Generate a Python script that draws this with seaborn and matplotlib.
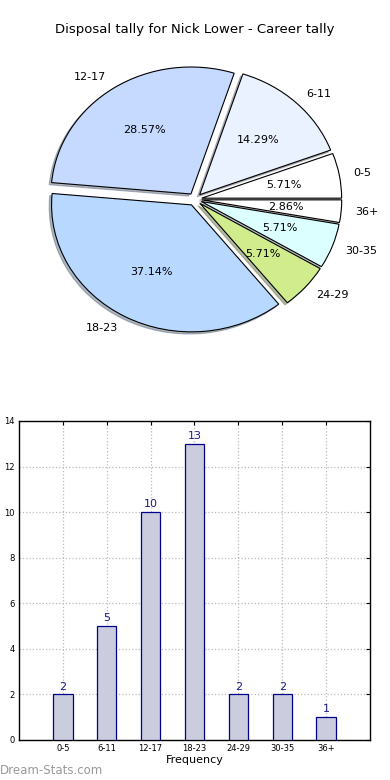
import matplotlib
matplotlib.use("Agg")
import matplotlib.pyplot as plt
import seaborn as sns
import pandas as pd

# career disposal tally, grouped by disposal count
CATEGORIES = ["0-5", "6-11", "12-17", "18-23", "24-29", "30-35", "36+"]
COUNTS = [2, 5, 10, 13, 2, 2, 1]
PIE_COLORS = ["#ffffff", "#eaf1ff", "#c6d9ff", "#b8d8ff",
              "#d0ec8c", "#dcffff", "#ffffff"]
TITLE = "Disposal tally for Nick Lower - Career tally"


def draw_pie(ax):
    ''' exploded pie with shadow, like the old dream-stats charts '''
    ax.pie(COUNTS, labels=CATEGORIES, colors=PIE_COLORS,
           explode=[0.05] * len(COUNTS),
           shadow={"ox": -0.012, "oy": -0.012, "shade": 0.5},
           startangle=0,
           autopct="%1.2f%%", pctdistance=0.6, labeldistance=1.1,
           wedgeprops={"edgecolor": "black", "linewidth": 0.8},
           textprops={"fontsize": 8, "color": "black"})
    # old matplotlib did not force a round pie
    ax.set_aspect("auto")
    ax.set_xlim(-1.25, 1.25)
    ax.set_ylim(-1.25, 1.25)


def draw_bars(ax):
    ''' frequency bars with the value written above each one '''
    df = pd.DataFrame({"range": CATEGORIES, "count": COUNTS})
    sns.barplot(data=df, x="range", y="count", order=CATEGORIES,
                color="#ccccdf", saturation=1, width=0.44,
                edgecolor="#00008b", linewidth=0.9, ax=ax, zorder=3)
    for i, v in enumerate(COUNTS):
        ax.text(i, v + 0.12, str(v), ha="center", va="bottom",
                fontsize=8, color="#1a1a8c")
    ax.set_xlim(-1, 7)
    ax.set_ylim(0, 14)
    ax.set_yticks(range(0, 15, 2))
    ax.grid(True, linestyle=":", color="#bbbbbb", linewidth=0.9, zorder=0)
    ax.set_axisbelow(True)
    ax.tick_params(direction="in", length=3, labelsize=6, top=True,
                   right=True, pad=3, colors="black")
    for s in ax.spines.values():
        s.set_linewidth(1)
        s.set_color("black")
    ax.set_xlabel("Frequency", fontsize=8, labelpad=1, color="black")
    ax.set_ylabel("Disposal Tally", fontsize=8, labelpad=4, color="black")


def main():
    sns.set_style("white")
    plt.rcParams["font.family"] = ["DejaVu Sans"]
    plt.rcParams["text.color"] = "black"
    fig = plt.figure(figsize=(3.9, 7.8), dpi=100)

    pie_ax = fig.add_axes([0.051, 0.541, 0.897, 0.407])
    draw_pie(pie_ax)
    fig.text(0.5, 1 - 30 / 780, TITLE, ha="center", va="center",
             fontsize=9.5, color="black")

    bar_ax = fig.add_axes([0.0487, 0.0513, 0.9, 0.409])
    draw_bars(bar_ax)

    fig.text(0.0, 1 - 771 / 780, "Dream-Stats.com", ha="left",
             va="center", fontsize=8.5, color="#999999")

    fig.savefig("out.png", dpi=100)


if __name__ == "__main__":
    main()
